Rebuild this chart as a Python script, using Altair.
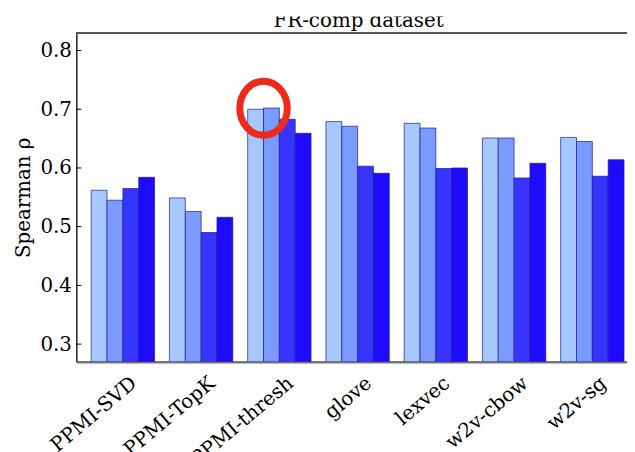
import altair as alt
import pandas as pd

models = ["PPMI-SVD", "PPMI-TopK", "PPMI-thresh", "glove", "lexvec", "w2v-cbow", "w2v-sg"]
series = ["s1", "s2", "s3", "s4"]
s1 = [0.562, 0.549, 0.700, 0.679, 0.676, 0.651, 0.652]
s2 = [0.545, 0.526, 0.702, 0.671, 0.668, 0.651, 0.645]
s3 = [0.565, 0.490, 0.683, 0.603, 0.599, 0.583, 0.586]
s4 = [0.584, 0.516, 0.659, 0.591, 0.600, 0.608, 0.614]
colors = ["#a6c8ff", "#7a9aff", "#3535ff", "#1e0aff"]
y_ticks = [0.3, 0.4, 0.5, 0.6, 0.7, 0.8]
y_domain = [0.27, 0.83]
title_text = "FR-comp dataset"
y_title = "Spearman ρ"
highlight_model = "PPMI-thresh"
highlight_value = 0.7017

W, H = 556, 332
FONT = "DejaVu Serif"

rows = []
for sname, vals in zip(series, [s1, s2, s3, s4]):
    for m, v in zip(models, vals):
        rows.append({"model": m, "series": sname, "value": v})
df = pd.DataFrame(rows)

yscale = alt.Scale(domain=y_domain, zero=False, nice=False)
xscale = alt.Scale(paddingInner=0.19, paddingOuter=0.114, align=0.833, round=False)

yaxis = alt.Axis(title=y_title, values=y_ticks, format=".1f", ticks=False, grid=False,
                 domainColor="#222222", domainWidth=1.5,
                 labelFont=FONT, labelFontSize=20, labelColor="black", labelPadding=5,
                 titleFont=FONT, titleFontSize=20, titleFontWeight="normal",
                 titleColor="black", titlePadding=6)
xaxis = alt.Axis(title=None, labelAngle=-40, labelAlign="right", labelBaseline="top",
                 labelPadding=11, labelOffset=5, ticks=False, grid=False,
                 domainColor="#777777", domainWidth=2.5,
                 labelFont=FONT, labelFontSize=20, labelColor="black", labelLimit=300)

bars = alt.Chart(df).mark_bar(
    stroke="#1c1c8c", strokeWidth=1, strokeOpacity=0.7, clip=True
).encode(
    x=alt.X("model:N", sort=models, scale=xscale, axis=xaxis),
    xOffset=alt.XOffset("series:N", sort=series, scale=alt.Scale(paddingInner=0, paddingOuter=0)),
    y=alt.Y("value:Q", scale=yscale, axis=yaxis),
    y2=alt.datum(y_domain[0]),
    color=alt.Color("series:N", sort=series, scale=alt.Scale(domain=series, range=colors), legend=None),
)

tick_df = pd.DataFrame({"value": y_ticks})
ticks = alt.Chart(tick_df).mark_rule(color="black", strokeWidth=1).encode(
    y=alt.Y("value:Q", scale=yscale, axis=yaxis),
    x=alt.value(0), x2=alt.value(5),
)

top_border = alt.Chart(tick_df).mark_rule(color="#555555", strokeWidth=2).encode(
    x=alt.value(0), x2=alt.value(W + 4), y=alt.value(0)
)

title = alt.Chart(pd.DataFrame({"t": [title_text]})).mark_text(
    font=FONT, fontSize=20, baseline="alphabetic", align="center", color="black"
).encode(text="t:N", x=alt.value(285), y=alt.value(-6))

cover = alt.Chart(pd.DataFrame({"t": [title_text]})).mark_rect(color="white").encode(
    x=alt.value(150), x2=alt.value(420), y=alt.value(-24), y2=alt.value(-16.5)
)

hl_df = pd.DataFrame({"model": [highlight_model], "value": [highlight_value]})
ellipse = "M -0.877 0 A 0.877 1 0 1 1 0.877 0 A 0.877 1 0 1 1 -0.877 0 Z"
circle = alt.Chart(hl_df).mark_point(
    shape=ellipse, size=2990, filled=False, stroke="#ee2a1a", strokeWidth=7, opacity=1
).encode(
    x=alt.X("model:N", sort=models, bandPosition=0.25, scale=xscale, axis=xaxis),
    y=alt.Y("value:Q", scale=yscale, axis=yaxis),
)

chart = alt.layer(bars, ticks, top_border, title, cover, circle).properties(
    width=W, height=H,
    autosize=alt.AutoSizeParams(type="none"),
    padding={"left": 69, "top": 23, "right": 0, "bottom": 90},
).configure_view(stroke=None)

chart.save("out.html", embed_options={"renderer": "svg", "actions": False})
